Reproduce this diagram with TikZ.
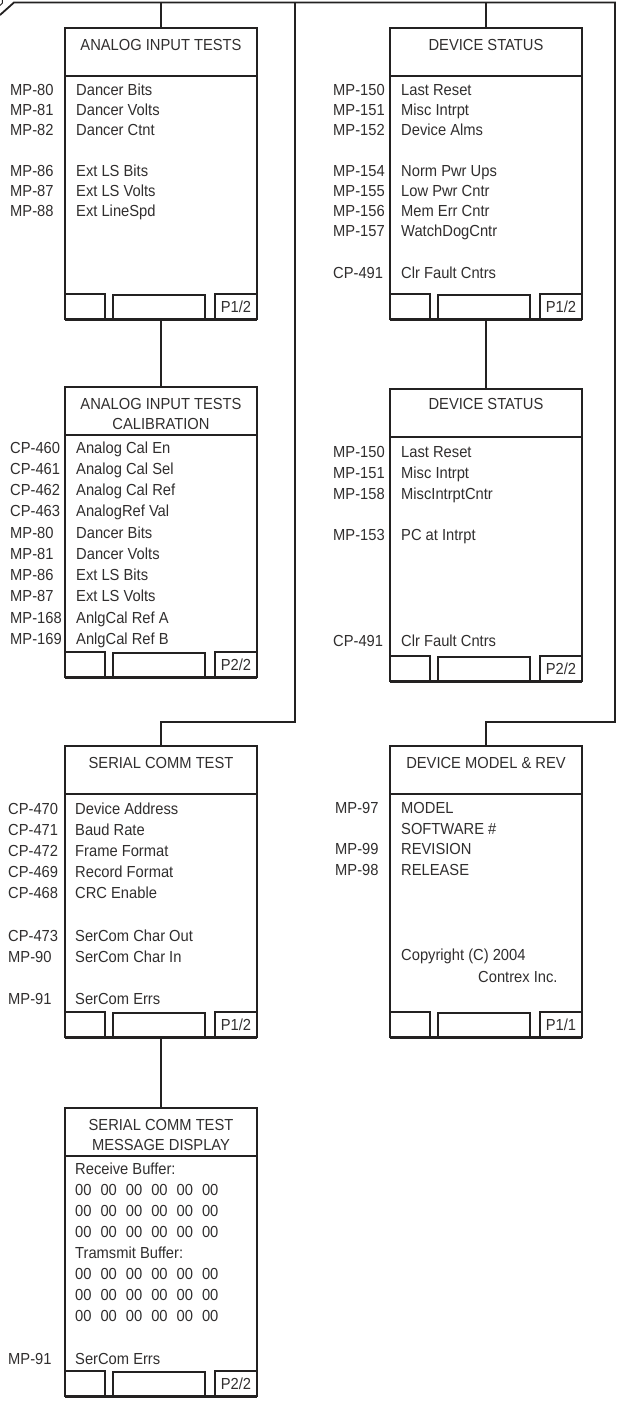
\documentclass[tikz,border=0pt]{standalone}
\usepackage{fontspec}
\setmainfont{Liberation Sans}[FakeStretch=0.92]
\usepackage{tikz}
\usetikzlibrary{positioning}
\definecolor{ink}{RGB}{35,33,33}
\definecolor{type}{RGB}{48,46,46}
\newcommand\bytes{00\hspace{9pt}00\hspace{9pt}00\hspace{9pt}00\hspace{9pt}00\hspace{9pt}00}
\tikzset{
  screen/.style={draw=ink, line width=2pt, minimum width=192pt, inner sep=0pt, outer sep=0pt},
  wire/.style={draw=ink, line width=1.8pt},
  title/.style={text=type, align=center, inner sep=0pt},
  code/.style={text=type, anchor=base west, inner sep=0pt, yshift=-5.7pt},
  key/.style={draw=ink, line width=2pt, minimum height=25pt, inner sep=0pt, outer sep=0pt,
    anchor=south west, text=type}
}

\begin{document}
\begin{tikzpicture}[x=1pt, y=1pt, font=\fontsize{16pt}{20pt}\selectfont]
  \useasboundingbox (0,0) rectangle (621,-1405);
  % screens
  \node[screen, minimum height=291pt] (ait) at (161,-173.5) {};
  \node[screen, minimum height=290pt] (aitcal) at (161,-532) {};
  \node[screen, minimum height=291pt] (serial) at (161,-891.5) {};
  \node[screen, minimum height=288pt] (serialmsg) at (161,-1252) {};
  \node[screen, minimum height=291pt] (devstat) at (486,-173.5) {};
  \node[screen, minimum height=292pt] (devstat2) at (486,-535) {};
  \node[screen, minimum height=291pt] (devmodel) at (486,-891.5) {};
  % titles
  \node[title] (ait-t) at ([yshift=-17pt]ait.north) {ANALOG INPUT TESTS};
  \node[title] (aitcal-t) at ([yshift=-27pt]aitcal.north) {ANALOG INPUT TESTS\\CALIBRATION};
  \node[title] (serial-t) at ([yshift=-17pt]serial.north) {SERIAL COMM TEST};
  \node[title] (serialmsg-t) at ([yshift=-27pt]serialmsg.north) {SERIAL COMM TEST\\MESSAGE DISPLAY};
  \node[title] (devstat-t) at ([yshift=-17pt]devstat.north) {DEVICE STATUS};
  \node[title] (devstat2-t) at ([yshift=-15pt]devstat2.north) {DEVICE STATUS};
  \node[title] (devmodel-t) at ([yshift=-17pt]devmodel.north) {DEVICE MODEL \& REV};
  % title rules and soft keys
  \foreach \s/\p in {ait/{P1/2}, aitcal/{P2/2}, serial/{P1/2}, serialmsg/{P2/2},
      devstat/{P1/2}, devstat2/{P2/2}, devmodel/{P1/1}} {
    \draw[wire] ([yshift=-48pt]\s.north west) -- ([yshift=-48pt]\s.north east);
    \node[key, minimum width=40pt] (\s-k1) at (\s.south west) {};
    \node[key, minimum width=92pt, minimum height=24pt, line width=1.4pt] (\s-k2)
      at ([xshift=48pt]\s.south west) {};
    \node[key, minimum width=42pt, anchor=south east] (\s-pg) at (\s.south east) {\p};
    \draw[draw=ink, line width=3pt] (\s.south west) -- (\s.south east);
  }
  % parameter rows
  \foreach \y/\c/\t in {90/MP-80/Dancer Bits, 110/MP-81/Dancer Volts, 130/MP-82/Dancer Ctnt,
      171/MP-86/Ext LS Bits, 191/MP-87/Ext LS Volts, 211/MP-88/Ext LineSpd} {
    \node[code] (ait-c\y) at (10,-\y) {\c};
    \node[code] (ait-r\y) at (76,-\y) {\t};
  }
  \foreach \y/\c/\t in {448/CP-460/Analog Cal En, 469/CP-461/Analog Cal Sel,
      490/CP-462/Analog Cal Ref, 511/CP-463/AnalogRef Val, 533/MP-80/Dancer Bits,
      554/MP-81/Dancer Volts, 575/MP-86/Ext LS Bits, 596/MP-87/Ext LS Volts,
      618/MP-168/AnlgCal Ref A, 639/MP-169/AnlgCal Ref B} {
    \node[code] (aitcal-c\y) at (10,-\y) {\c};
    \node[code] (aitcal-r\y) at (76,-\y) {\t};
  }
  \foreach \y/\c/\t in {809/CP-470/Device Address, 830/CP-471/Baud Rate,
      851/CP-472/Frame Format, 872/CP-469/Record Format, 893/CP-468/CRC Enable,
      936/CP-473/SerCom Char Out, 957/MP-90/SerCom Char In, 999/MP-91/SerCom Errs} {
    \node[code] (serial-c\y) at (8,-\y) {\c};
    \node[code] (serial-r\y) at (75,-\y) {\t};
  }
  \node[code] (serialmsg-rx) at (75,-1169) {Receive Buffer:};
  \node[code] (serialmsg-tx) at (75,-1253) {Tramsmit Buffer:};
  \foreach \y in {1190,1211,1232,1274,1295,1316}
    \node[code] (serialmsg-b\y) at (75,-\y) {\bytes};
  \node[code] (serialmsg-c) at (8,-1359) {MP-91};
  \node[code] (serialmsg-r) at (75,-1359) {SerCom Errs};
  \foreach \y/\c/\t in {90/MP-150/Last Reset, 110/MP-151/Misc Intrpt, 130/MP-152/Device Alms,
      171/MP-154/Norm Pwr Ups, 191/MP-155/Low Pwr Cntr, 211/MP-156/Mem Err Cntr,
      231/MP-157/WatchDogCntr, 273/CP-491/Clr Fault Cntrs} {
    \node[code] (devstat-c\y) at (333,-\y) {\c};
    \node[code] (devstat-r\y) at (401,-\y) {\t};
  }
  \foreach \y/\c/\t in {452/MP-150/Last Reset, 473/MP-151/Misc Intrpt,
      494/MP-158/MiscIntrptCntr, 535/MP-153/PC at Intrpt, 641/CP-491/Clr Fault Cntrs} {
    \node[code] (devstat2-c\y) at (333,-\y) {\c};
    \node[code] (devstat2-r\y) at (401,-\y) {\t};
  }
  \foreach \y/\c/\t in {808/MP-97/MODEL, 829//SOFTWARE \#, 849/MP-99/REVISION, 870/MP-98/RELEASE} {
    \node[code] (devmodel-c\y) at (335,-\y) {\c};
    \node[code] (devmodel-r\y) at (401,-\y) {\t};
  }
  \node[code] (devmodel-copy) at (401,-955) {Copyright (C) 2004};
  \node[code] (devmodel-firm) at (478,-977) {Contrex Inc.};
  % menu bus
  \coordinate (busL) at (14,-2.5);
  \coordinate (busR) at (615,-2.5);
  \coordinate (cut) at (0,-15);
  \coordinate (lturn) at (295,-722);
  \coordinate (rturn) at (615,-722);
  \draw[wire] (cut) -- (busL) -- (busR) -- (rturn) -| (devmodel.north);
  \draw[wire] (lturn |- busL) -- (lturn) -| (serial.north);
  \draw[wire] (ait.north) -- (ait.north |- busL);
  \draw[wire] (devstat.north) -- (devstat.north |- busL);
  \draw[wire] (ait.south) -- (aitcal.north);
  \draw[wire] (devstat.south) -- (devstat2.north);
  \draw[wire] (serial.south) -- (serialmsg.north);
  \draw[draw=ink, line width=1pt] (0,-5.5) .. controls (2.5,-4.5) and (3,-2) .. (2.5,0);
\end{tikzpicture}
\end{document}
